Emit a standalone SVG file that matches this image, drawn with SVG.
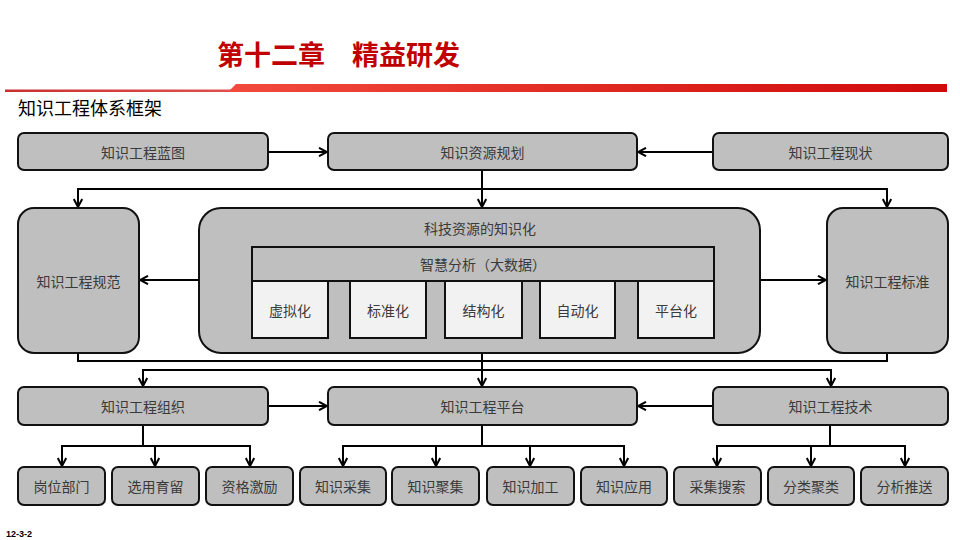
<svg xmlns="http://www.w3.org/2000/svg" width="960" height="540" viewBox="0 0 960 540">
<defs>
<linearGradient id="band" x1="0" y1="0" x2="1" y2="0">
<stop offset="0" stop-color="#f24a3e"/>
<stop offset="1" stop-color="#cf0a0a"/>
</linearGradient>
<linearGradient id="thin" x1="0" y1="0" x2="1" y2="0">
<stop offset="0" stop-color="#c83030"/>
<stop offset="1" stop-color="#e05050"/>
</linearGradient>
<marker id="arr" viewBox="0 0 10 10" refX="9" refY="5" markerWidth="10" markerHeight="10" markerUnits="userSpaceOnUse" orient="auto">
<path d="M1,0.8 L9,5 L1,9.2" fill="none" stroke="#000" stroke-width="2"/>
</marker>
<style>
.box{fill:#bfbfbf;stroke:#111;stroke-width:2}
.sub{fill:#f2f2f2;stroke:#111;stroke-width:2}
.t{font-family:"Noto Sans CJK SC","Noto Sans",sans-serif;font-size:14px;fill:#3a3a3a;text-anchor:middle;dominant-baseline:central}
.c{fill:none;stroke:#000;stroke-width:2}
.a{marker-end:url(#arr)}
</style>
</defs>
<rect width="960" height="540" fill="#fff"/>
<g id="header">
<text x="217" y="65" font-family="'Noto Sans CJK SC','Noto Sans',sans-serif" font-size="27" font-weight="700" fill="#c00000">第十二章　精益研发</text>
<rect x="5" y="89.5" width="226" height="2.5" fill="url(#thin)"/>
<path d="M228,92 L236,84 H947 V92 Z" fill="url(#band)"/>
<text x="18" y="115" font-family="'Noto Sans CJK SC','Noto Sans',sans-serif" font-size="18" fill="#000">知识工程体系框架</text>
<text x="6" y="537" font-family="'Liberation Sans','Noto Sans',sans-serif" font-size="9" font-weight="700" fill="#000">12-3-2</text>
</g>
<g id="connectors">
<path class="c a" d="M268,152 H327"/>
<path class="c a" d="M713,152 H638"/>
<path class="c a" d="M482,170 V207"/>
<path class="c a" d="M482,189 H78 V207"/>
<path class="c a" d="M482,189 H887 V207"/>
<path class="c a" d="M199,280 H140"/>
<path class="c a" d="M760,280 H826"/>
<path class="c" d="M78,353 V361 H887 V353"/>
<path class="c a" d="M482,353 V386"/>
<path class="c a" d="M482,370 H143 V386"/>
<path class="c a" d="M482,370 H831 V386"/>
<path class="c a" d="M268,406 H327"/>
<path class="c a" d="M713,406 H638"/>
<path class="c" d="M143,425 V446"/>
<path class="c a" d="M143,446 H62 V466"/>
<path class="c a" d="M155,446 V466"/>
<path class="c a" d="M143,446 H250 V466"/>
<path class="c" d="M482,425 V446"/>
<path class="c a" d="M482,446 H343 V466"/>
<path class="c a" d="M436,446 V466"/>
<path class="c a" d="M530,446 V466"/>
<path class="c a" d="M482,446 H624 V466"/>
<path class="c" d="M830,425 V446"/>
<path class="c a" d="M830,446 H717 V466"/>
<path class="c a" d="M811,446 V466"/>
<path class="c a" d="M830,446 H905 V466"/>
</g>
<g id="n-lantu"><rect class="box" x="18" y="133" width="250" height="37" rx="6"/><text class="t" x="143" y="151.5">知识工程蓝图</text></g>
<g id="n-guihua"><rect class="box" x="328" y="133" width="309" height="37" rx="6"/><text class="t" x="482.5" y="151.5">知识资源规划</text></g>
<g id="n-xianzhuang"><rect class="box" x="713" y="133" width="235" height="37" rx="6"/><text class="t" x="830.5" y="151.5">知识工程现状</text></g>
<g id="n-guifan"><rect class="box" x="18" y="208" width="121" height="145" rx="16"/><text class="t" x="78.5" y="280.5">知识工程规范</text></g>
<g id="n-zhishihua">
<rect class="box" x="199" y="208" width="561" height="145" rx="22"/>
<text class="t" x="480" y="228">科技资源的知识化</text>
<rect class="box" x="252" y="247" width="462" height="34"/>
<text class="t" x="483" y="264">智慧分析（大数据）</text>
</g>
<g id="n-xuni"><rect class="sub" x="252" y="281" width="76" height="57"/><text class="t" x="290" y="309.5">虚拟化</text></g>
<g id="n-biaozhunhua"><rect class="sub" x="350" y="281" width="76" height="57"/><text class="t" x="388" y="309.5">标准化</text></g>
<g id="n-jiegou"><rect class="sub" x="445" y="281" width="77" height="57"/><text class="t" x="483.5" y="309.5">结构化</text></g>
<g id="n-zidong"><rect class="sub" x="540" y="281" width="75" height="57"/><text class="t" x="577.5" y="309.5">自动化</text></g>
<g id="n-pingtaihua"><rect class="sub" x="638" y="281" width="76" height="57"/><text class="t" x="676" y="309.5">平台化</text></g>
<g id="n-biaozhun"><rect class="box" x="827" y="208" width="121" height="145" rx="16"/><text class="t" x="887.5" y="280.5">知识工程标准</text></g>
<g id="n-zuzhi"><rect class="box" x="18" y="387" width="250" height="38" rx="6"/><text class="t" x="143" y="406">知识工程组织</text></g>
<g id="n-pingtai"><rect class="box" x="328" y="387" width="309" height="38" rx="6"/><text class="t" x="482.5" y="406">知识工程平台</text></g>
<g id="n-jishu"><rect class="box" x="713" y="387" width="235" height="38" rx="6"/><text class="t" x="830.5" y="406">知识工程技术</text></g>
<g id="n-gangwei"><rect class="box" x="18" y="467" width="87" height="38" rx="6"/><text class="t" x="61.5" y="486">岗位部门</text></g>
<g id="n-xuanyong"><rect class="box" x="112" y="467" width="87" height="38" rx="6"/><text class="t" x="155.5" y="486">选用育留</text></g>
<g id="n-zige"><rect class="box" x="206" y="467" width="87" height="38" rx="6"/><text class="t" x="249.5" y="486">资格激励</text></g>
<g id="n-caiji"><rect class="box" x="300" y="467" width="86" height="38" rx="6"/><text class="t" x="343" y="486">知识采集</text></g>
<g id="n-juji"><rect class="box" x="392" y="467" width="87" height="38" rx="6"/><text class="t" x="435.5" y="486">知识聚集</text></g>
<g id="n-jiagong"><rect class="box" x="487" y="467" width="87" height="38" rx="6"/><text class="t" x="530.5" y="486">知识加工</text></g>
<g id="n-yingyong"><rect class="box" x="581" y="467" width="86" height="38" rx="6"/><text class="t" x="624" y="486">知识应用</text></g>
<g id="n-sousuo"><rect class="box" x="674" y="467" width="87" height="38" rx="6"/><text class="t" x="717.5" y="486">采集搜索</text></g>
<g id="n-julei"><rect class="box" x="768" y="467" width="86" height="38" rx="6"/><text class="t" x="811" y="486">分类聚类</text></g>
<g id="n-tuisong"><rect class="box" x="861" y="467" width="87" height="38" rx="6"/><text class="t" x="904.5" y="486">分析推送</text></g>
</svg>
